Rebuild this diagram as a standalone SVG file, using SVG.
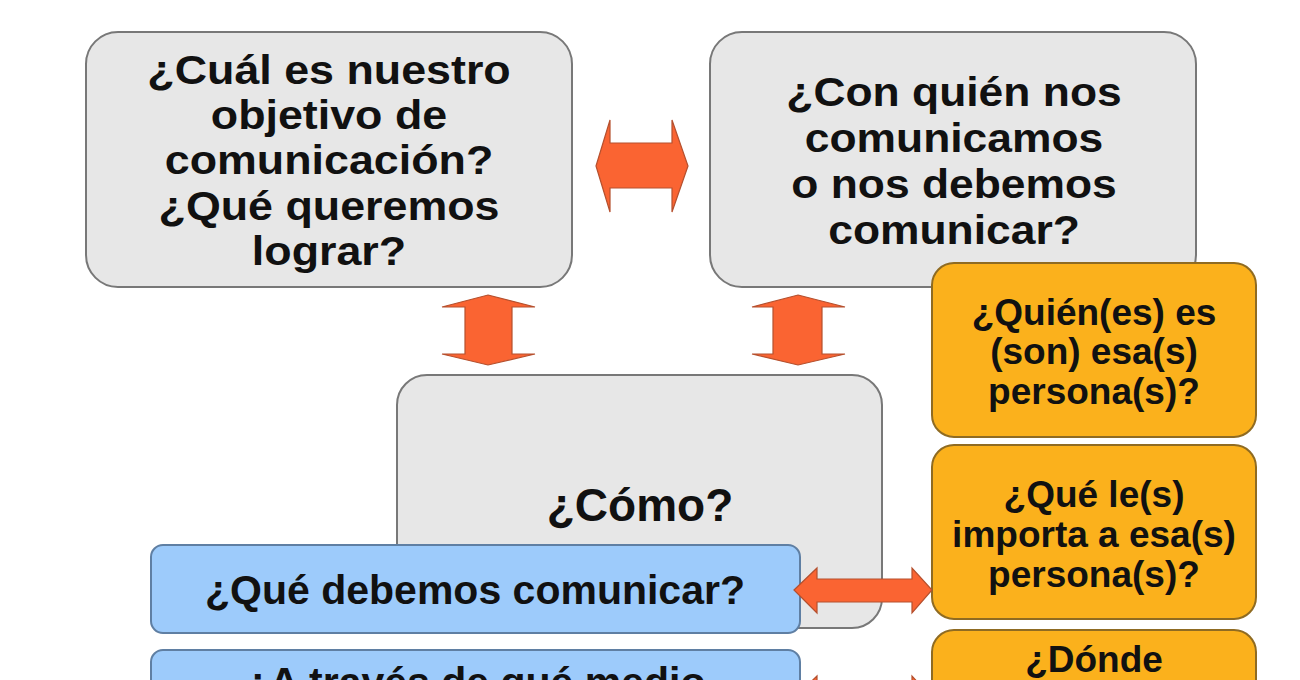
<svg xmlns="http://www.w3.org/2000/svg" width="1300" height="680" viewBox="0 0 1300 680">
<style>
.gray{fill:#e7e7e7;stroke:#787878;stroke-width:2}
.blue{fill:#9dcbfb;stroke:#5f7fa3;stroke-width:2}
.orange{fill:#fbb11c;stroke:#8f6b22;stroke-width:2}
.t{font-family:"Liberation Sans",Arial,sans-serif;font-weight:bold;fill:#111;text-anchor:middle}
.arrow{fill:#fa6432;stroke:#b5502e;stroke-width:1.2;stroke-linejoin:miter}
</style>
<rect width="1300" height="680" fill="#ffffff"/>
<g id="node-objetivo">
<rect class="gray" x="86" y="32" width="486" height="255" rx="32"/>
<g transform="translate(329,0) scale(1.12,1)">
<text class="t" font-size="40" x="0" y="84">¿Cuál es nuestro</text>
<text class="t" font-size="40" x="0" y="129">objetivo de</text>
<text class="t" font-size="40" x="0" y="174">comunicación?</text>
<text class="t" font-size="40" x="0" y="220">¿Qué queremos</text>
<text class="t" font-size="40" x="0" y="265">lograr?</text>
</g>
</g>
<g id="node-con-quien">
<rect class="gray" x="710" y="32" width="486" height="255" rx="32"/>
<g transform="translate(954,0) scale(1.11,1)">
<text class="t" font-size="40" x="0" y="106">¿Con quién nos</text>
<text class="t" font-size="40" x="0" y="152">comunicamos</text>
<text class="t" font-size="40" x="0" y="198">o nos debemos</text>
<text class="t" font-size="40" x="0" y="244">comunicar?</text>
</g>
</g>
<g id="node-como">
<rect class="gray" x="397" y="375" width="485" height="253" rx="30"/>
<text class="t" font-size="46" x="640" y="521">¿Cómo?</text>
</g>
<g id="node-que-debemos">
<rect class="blue" x="151" y="545" width="649" height="88" rx="12"/>
<text class="t" font-size="41" x="475" y="604">¿Qué debemos comunicar?</text>
</g>
<g id="node-medio">
<rect class="blue" x="151" y="650" width="649" height="88" rx="12"/>
<text class="t" font-size="41" x="475" y="696">¿A través de qué medio</text>
</g>
<g id="node-quienes">
<rect class="orange" x="932" y="263" width="324" height="174" rx="22"/>
<text class="t" font-size="37" x="1094" y="325">¿Quién(es) es</text>
<text class="t" font-size="37" x="1094" y="364">(son) esa(s)</text>
<text class="t" font-size="37" x="1094" y="404">persona(s)?</text>
</g>
<g id="node-importa">
<rect class="orange" x="932" y="445" width="324" height="174" rx="22"/>
<text class="t" font-size="37" x="1094" y="507">¿Qué le(s)</text>
<text class="t" font-size="37" x="1094" y="547">importa a esa(s)</text>
<text class="t" font-size="37" x="1094" y="587">persona(s)?</text>
</g>
<g id="node-donde">
<rect class="orange" x="932" y="630" width="324" height="174" rx="22"/>
<text class="t" font-size="37" x="1094" y="672">¿Dónde</text>
</g>
<g id="connectors">
<polygon class="arrow" points="596,166 610,120 610,143 672,143 672,120 688,166 672,212 672,188 610,188 610,212"/>
<polygon class="arrow" points="488,295 535,307 512,307 512,354 535,354 488,365 442,354 465,354 465,307 442,307"/>
<polygon class="arrow" points="798,295 845,307 822,307 822,354 845,354 798,365 752,354 773,354 773,307 752,307"/>
<polygon class="arrow" points="794,590 817,568 817,579 912,579 912,568 932,590 912,613 912,602 817,602 817,613"/>
<polygon class="arrow" points="794,698 817,676 817,687 912,687 912,676 932,698 912,721 912,710 817,710 817,721"/>
</g>
</svg>
